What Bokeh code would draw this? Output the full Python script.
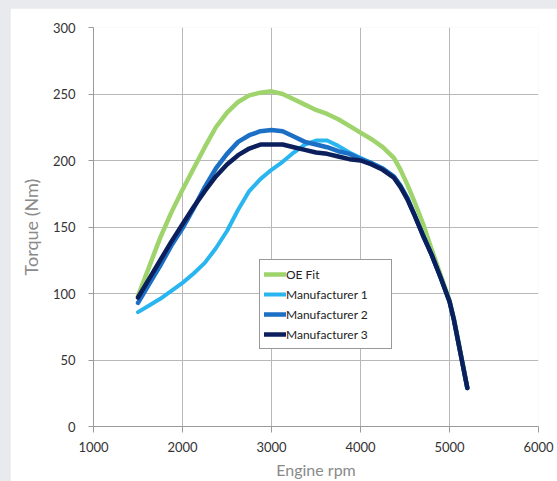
from bokeh.plotting import figure
from bokeh.models import Range1d, Legend, LegendItem, FixedTicker
from bokeh.embed import file_html
from bokeh.resources import INLINE

# ---- data ----
rpm = [1500, 1625, 1750, 1875, 2000, 2125, 2250, 2375, 2500, 2625, 2750,
       2875, 3000, 3125, 3250, 3375, 3500, 3625, 3750, 3875, 4000, 4125,
       4250, 4375, 4450, 4525, 4600, 4700, 4800, 4900, 5000, 5050, 5100,
       5150, 5200]
oe_fit = [98, 120, 142, 161, 178, 194, 210, 225, 236, 244, 249,
          251, 252, 250, 246, 242, 238, 235, 231, 226, 221, 216,
          210, 202, 193, 182, 170, 153, 133, 114, 95, 81, 64,
          47, 29]
manufacturer_1 = [86, 91, 96, 102, 108, 115, 123, 134, 147, 163, 177,
                  186, 193, 199, 206, 212, 215, 215, 211, 206, 202, 198,
                  194, 188, 181, 172, 160, 144, 129, 112, 94, 80, 63,
                  46, 29]
manufacturer_2 = [93, 107, 121, 136, 149, 164, 180, 194, 205, 214, 219,
                  222, 223, 222, 218, 214, 212, 210, 207, 205, 201, 198,
                  194, 188, 181, 172, 160, 144, 129, 112, 94, 80, 63,
                  46, 29]
manufacturer_3 = [97, 111, 125, 139, 152, 165, 177, 188, 197, 204, 209,
                  212, 212, 212, 210, 208, 206, 205, 203, 201, 200, 197,
                  193, 187, 180, 171, 160, 144, 129, 112, 94, 80, 63,
                  46, 29]
series_names = ["OE Fit", "Manufacturer 1", "Manufacturer 2", "Manufacturer 3"]
x_ticks = [1000, 2000, 3000, 4000, 5000, 6000]
y_ticks = [0, 50, 100, 150, 200, 250, 300]

colors = ["#9fd46c", "#29b6f0", "#1b6fc5", "#0b1f5c"]
FONT = "Lato"

p = figure(width=547, height=473, output_backend="svg", toolbar_location=None,
           x_range=Range1d(1000, 6000), y_range=Range1d(0, 300),
           min_border_left=83, min_border_right=19, min_border_top=19,
           min_border_bottom=54)
p.background_fill_color = "white"
p.border_fill_color = "white"
p.outline_line_color = None

for ax in (p.xaxis[0], p.yaxis[0]):
    ax.major_label_text_font = FONT
    ax.major_label_text_font_size = "13px"
    ax.major_label_text_color = "#333333"
    ax.axis_label_text_font = FONT
    ax.axis_label_text_font_style = "normal"
    ax.axis_label_text_color = "#8a8a8a"
    ax.axis_line_color = "#9a9a9a"
    ax.major_tick_line_color = "#9a9a9a"
    ax.minor_tick_line_color = None
    ax.major_tick_in = 0

p.xaxis.ticker = FixedTicker(ticks=x_ticks)
p.yaxis.ticker = FixedTicker(ticks=y_ticks)
p.xaxis.axis_label = "Engine rpm"
p.yaxis.axis_label = "Torque (Nm)"
p.xaxis.axis_label_text_font_size = "16px"
p.yaxis.axis_label_text_font_size = "18px"
p.xaxis.major_tick_out = 6
p.yaxis.major_tick_out = 5
p.xaxis.major_label_standoff = 9
p.yaxis.major_label_standoff = 13
p.xaxis.axis_label_standoff = 5
p.yaxis.axis_label_standoff = 8

p.xgrid.ticker = FixedTicker(ticks=x_ticks)
p.ygrid.ticker = FixedTicker(ticks=y_ticks)
p.grid.grid_line_color = "#b8b8b8"
p.grid.grid_line_width = 1

data = [oe_fit, manufacturer_1, manufacturer_2, manufacturer_3]
widths = [4.5, 4, 4.5, 4.5]
items = []
for name, ys, c, w in zip(series_names, data, colors, widths):
    r = p.line(rpm, ys, line_color=c, line_width=w, line_join="round", line_cap="round")
    items.append(LegendItem(label=name, renderers=[r]))

legend = Legend(items=items, location=(166, 77))
legend.label_text_font = FONT
legend.label_text_font_size = "12px"
legend.label_text_color = "#222222"
legend.label_standoff = 0
legend.label_width = 101
legend.label_height = 20
legend.glyph_height = 20
legend.glyph_width = 22
legend.spacing = 0
legend.padding = 4
legend.margin = 0
legend.border_line_color = "#333333"
legend.border_line_width = 1.5
legend.background_fill_color = "white"
legend.background_fill_alpha = 1
p.add_layout(legend, "center")

html = file_html(p, INLINE)
html = html.replace("</head>",
                    "<style>body{background:#e8eaed;padding:8px 0 0 10px !important;}</style></head>", 1)
open("out.html", "w").write(html)
